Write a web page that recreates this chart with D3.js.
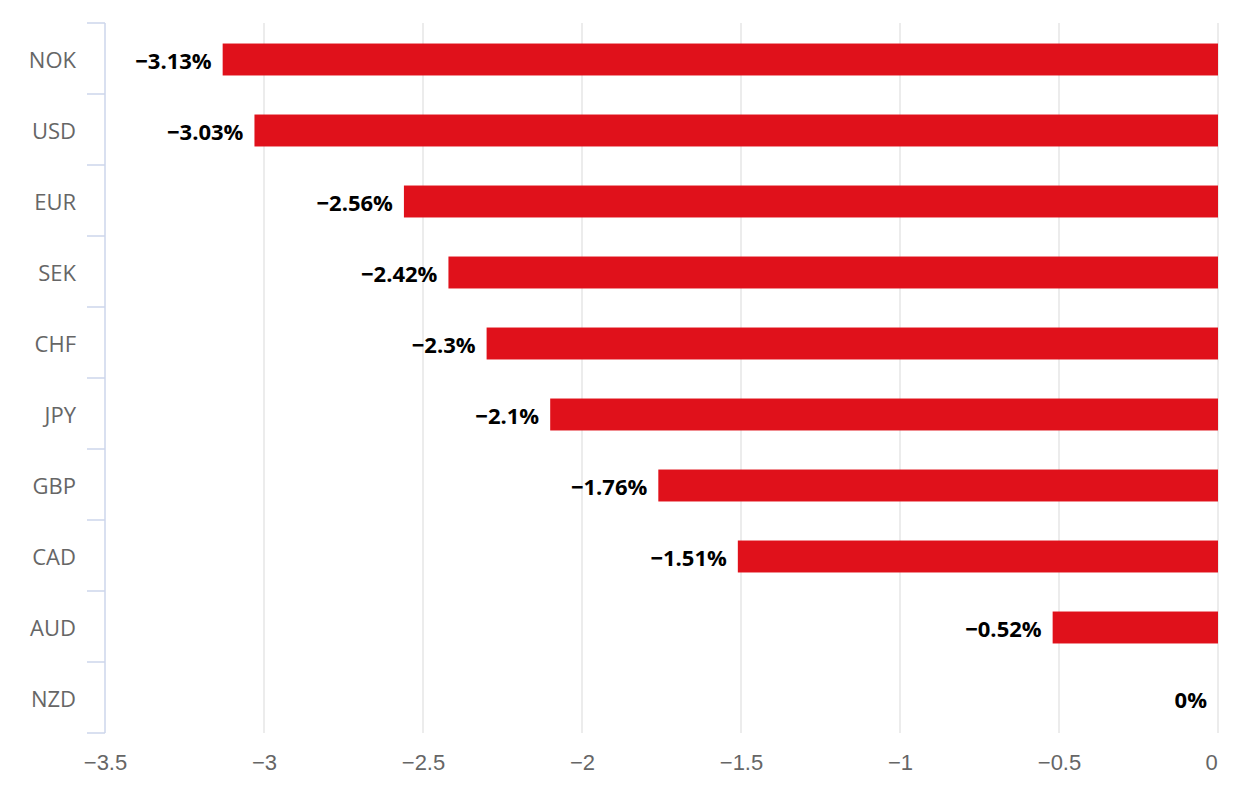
<!DOCTYPE html>
<html>
<head>
<meta charset="utf-8">
<script src="https://cdn.jsdelivr.net/npm/d3@7"></script>
<style>
  body { margin: 0; background: #fff; }
  svg { display: block; font-family: "Open Sans", "DejaVu Sans", sans-serif; }
</style>
</head>
<body>
<div id="chart"></div>
<script>
"use strict";

// currencies, top to bottom
const currencies = ["NOK", "USD", "EUR", "SEK", "CHF", "JPY", "GBP", "CAD", "AUD", "NZD"];
// percentage change per currency
const changes = [-3.13, -3.03, -2.56, -2.42, -2.3, -2.1, -1.76, -1.51, -0.52, 0];
// value axis ticks
const xTicks = [-3.5, -3, -2.5, -2, -1.5, -1, -0.5, 0];

const dataset = currencies.map((c, i) => ({ name: c, value: changes[i] }));

const drawChart = (data) => {
  const width = 1254;
  const height = 806;
  const margin = { top: 23, right: 36, bottom: 73, left: 105 };
  const innerW = width - margin.left - margin.right;
  const innerH = height - margin.top - margin.bottom;

  const svg = d3
    .select("#chart")
    .append("svg")
    .attr("width", width)
    .attr("height", height)
    .append("g")
    .attr("transform", "translate(" + margin.left + "," + margin.top + ")");

  ///////////////////////////////////
  // scales
  ///////////////////////////////////

  const xScale = d3.scaleLinear().domain([-3.5, 0]).range([0, innerW]);

  // plain band for the category ticks
  const yAxisScale = d3.scaleBand().domain(currencies).range([0, innerH]);

  // padded band for the bars themselves
  const yBarScale = d3
    .scaleBand()
    .domain(currencies)
    .range([0, innerH])
    .paddingInner(0.55)
    .paddingOuter(0.275);

  ///////////////////////////////////
  // grid lines
  ///////////////////////////////////

  svg
    .append("g")
    .selectAll("line")
    .data(xTicks.filter((t) => t !== -3.5))
    .enter()
    .append("line")
    .attr("x1", (d) => xScale(d))
    .attr("x2", (d) => xScale(d))
    .attr("y1", 0)
    .attr("y2", innerH)
    .attr("stroke", "#e6e6e6")
    .attr("stroke-width", 1.5);

  ///////////////////////////////////
  // x axis (labels only)
  ///////////////////////////////////

  const fmt = d3.format("");
  const xAxis = svg
    .append("g")
    .attr("transform", "translate(0," + innerH + ")")
    .call(d3.axisBottom(xScale).tickValues(xTicks).tickSize(0).tickPadding(21).tickFormat((d) => fmt(d)));
  xAxis.select(".domain").remove();
  xAxis
    .selectAll("text")
    .attr("fill", "#666")
    .style("font-size", "22px")
    .attr("dx", (d) => (d === 0 ? -7 : 0));

  ///////////////////////////////////
  // y axis with boundary ticks
  ///////////////////////////////////

  const yAxis = svg.append("g");
  yAxis
    .append("line")
    .attr("x1", 0)
    .attr("x2", 0)
    .attr("y1", 0)
    .attr("y2", innerH)
    .attr("stroke", "#ccd6eb")
    .attr("stroke-width", 1.5);

  const bounds = currencies.map((c) => yAxisScale(c)).concat([innerH]);
  yAxis
    .selectAll(".cat-tick")
    .data(bounds)
    .enter()
    .append("line")
    .attr("class", "cat-tick")
    .attr("x1", -18)
    .attr("x2", 0)
    .attr("y1", (d) => d)
    .attr("y2", (d) => d)
    .attr("stroke", "#ccd6eb")
    .attr("stroke-width", 1.5);

  yAxis
    .selectAll(".cat-label")
    .data(currencies)
    .enter()
    .append("text")
    .attr("class", "cat-label")
    .attr("x", -29)
    .attr("y", (d) => yAxisScale(d) + yAxisScale.bandwidth() / 2 + 2)
    .attr("dy", "0.36em")
    .attr("text-anchor", "end")
    .attr("fill", "#666")
    .style("font-size", "22px")
    .text((d) => d);

  ///////////////////////////////////
  // bars + value labels
  ///////////////////////////////////

  svg
    .selectAll(".bar")
    .data(data)
    .enter()
    .append("rect")
    .attr("class", "bar")
    .attr("x", (d) => xScale(Math.min(d.value, 0)))
    .attr("y", (d) => yBarScale(d.name) + 1)
    .attr("width", (d) => Math.abs(xScale(d.value) - xScale(0)))
    .attr("height", yBarScale.bandwidth())
    .attr("fill", "#e0111b");

  svg
    .selectAll(".val")
    .data(data)
    .enter()
    .append("text")
    .attr("class", "val")
    .attr("x", (d) => xScale(Math.min(d.value, 0)) - 11)
    .attr("y", (d) => yBarScale(d.name) + 3 + yBarScale.bandwidth() / 2)
    .attr("dy", "0.36em")
    .attr("text-anchor", "end")
    .attr("fill", "#000")
    .style("font-size", "22px")
    .style("font-weight", "bold")
    .text((d) => fmt(d.value) + "%");
};

drawChart(dataset);
</script>
</body>
</html>
